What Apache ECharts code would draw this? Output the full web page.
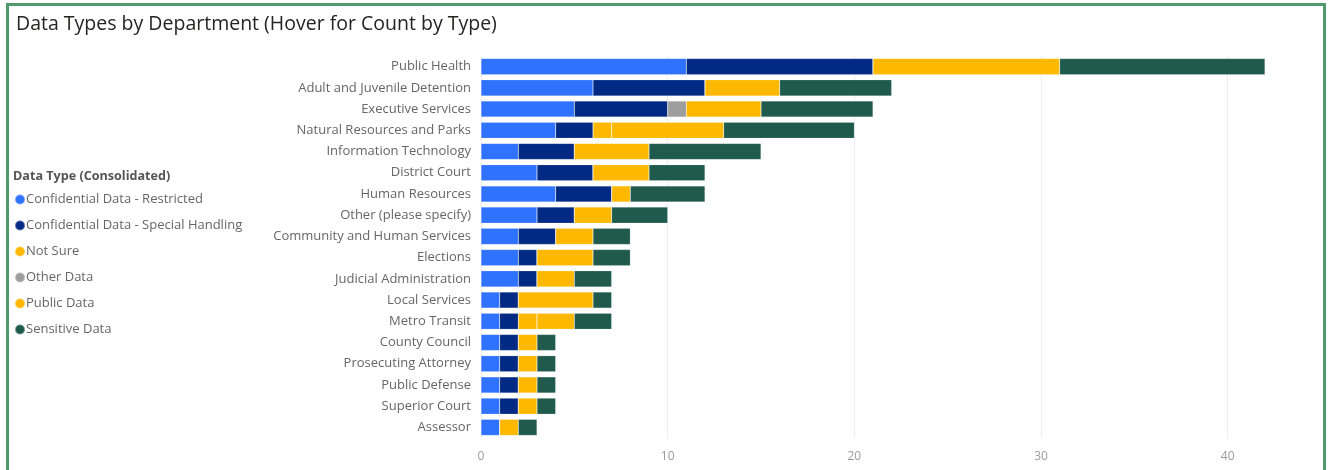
<!DOCTYPE html>
<html><head><meta charset="utf-8">
<script src="https://cdn.jsdelivr.net/npm/echarts@6/dist/echarts.min.js"></script>
<style>
html,body{margin:0;padding:0;background:#fff;}
#frame{position:absolute;left:6px;top:3px;width:1320px;height:470px;border:3px solid #4f9a6c;box-sizing:border-box;border-bottom:none;}
#c{position:absolute;left:0;top:0;width:1335px;height:470px;}
</style></head>
<body>
<div id="c"></div>
<div id="frame"></div>
<script>
const categories = ["Public Health","Adult and Juvenile Detention","Executive Services","Natural Resources and Parks","Information Technology","District Court","Human Resources","Other (please specify)","Community and Human Services","Elections","Judicial Administration","Local Services","Metro Transit","County Council","Prosecuting Attorney","Public Defense","Superior Court","Assessor"];
const seriesNames = ["Confidential Data - Restricted","Confidential Data - Special Handling","Not Sure","Other Data","Public Data","Sensitive Data"];
const restricted     = [11,6,5,4,2,3,4,3,2,2,2,1,1,1,1,1,1,1];
const specialHandling= [10,6,5,2,3,3,3,2,2,1,1,1,1,1,1,1,1,0];
const notSure        = [0,0,0,1,0,0,0,0,0,0,0,0,1,0,0,0,0,0];
const otherData      = [0,0,1,0,0,0,0,0,0,0,0,0,0,0,0,0,0,0];
const publicData     = [10,4,4,6,4,3,1,2,2,3,2,4,2,1,1,1,1,1];
const sensitive      = [11,6,6,7,6,3,4,3,2,2,2,1,2,1,1,1,1,1];
const xTicks = [0,10,20,30,40];
const colors = ["#2f72ff","#022a84","#ffb800","#9e9e9e","#ffb800","#1f5a4d"];
const values = [restricted,specialHandling,notSure,otherData,publicData,sensitive];

const chart = echarts.init(document.getElementById('c'));
chart.setOption({
  animation:false,
  title:{text:"Data Types by Department (Hover for Count by Type)",left:11,top:9,
    textStyle:{fontFamily:"Open Sans",fontSize:19.5,fontWeight:"normal",color:"#252423"}},
  graphic:[{type:'text',left:13,top:170,style:{text:"Data Type (Consolidated)",font:"bold 12.6px 'Open Sans'",fill:"#555"}}],
  legend:{orient:'vertical',left:9,top:188,itemWidth:10,itemHeight:10,itemGap:13,icon:'circle',
    textStyle:{fontFamily:"Open Sans",fontSize:13,color:"#666",padding:[0,0,0,-4]},
    data:seriesNames},
  grid:{left:481,right:70,top:56,bottom:32,containLabel:false},
  xAxis:{type:'value',min:0,max:42,interval:10,
    axisLine:{show:false},axisTick:{show:false},
    axisLabel:{color:"#9a9a9a",fontFamily:"Open Sans",fontSize:12,margin:13,
      formatter:v=>xTicks.includes(v)?String(v):''},
    splitLine:{show:true,showMaxLine:false,lineStyle:{color:"#eeeeee",width:1}}},
  yAxis:{type:'category',inverse:true,data:categories,
    axisLine:{show:false},axisTick:{show:false},
    axisLabel:{color:"#666",fontFamily:"Open Sans",fontSize:13,margin:10}},
  series:seriesNames.map((n,i)=>({name:n,type:'bar',stack:'t',data:values[i],
    barCategoryGap:'24%',itemStyle:{color:colors[i],borderColor:'rgba(255,255,255,0.35)',borderWidth:0.5}}))
});
</script>
</body></html>
